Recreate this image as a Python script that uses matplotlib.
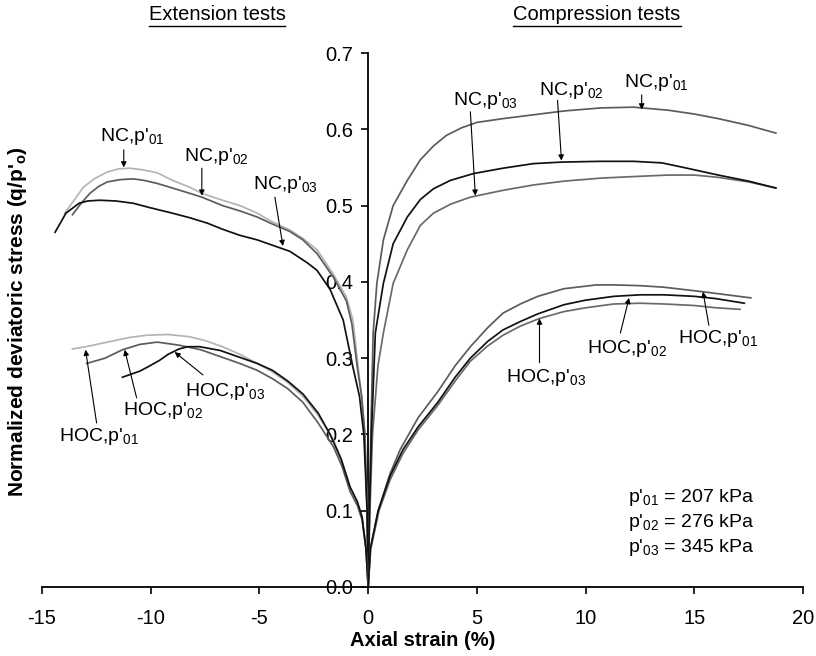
import matplotlib
matplotlib.use("Agg")
import matplotlib.pyplot as plt
from matplotlib.lines import Line2D

plt.rcParams['font.family'] = ['Liberation Sans', 'DejaVu Sans']
plt.rcParams['mathtext.fontset'] = 'custom'
plt.rcParams['mathtext.rm'] = 'Liberation Sans'
plt.rcParams['mathtext.it'] = 'Liberation Sans:italic'
plt.rcParams['mathtext.bf'] = 'Liberation Sans:bold'
plt.rcParams['axes.unicode_minus'] = False

# ---- extension tests (negative strain) ----
ext_nc01_x = [0, -0.05, -0.15, -0.3, -0.46, -0.7, -1.0, -1.6, -2.35, -3.0, -3.6, -4.5, -5.1, -5.9,
              -6.7, -7.65, -8.2, -9.0, -9.7, -10.4, -10.97, -11.5, -12.0, -12.6, -13.1, -13.5, -13.96]
ext_nc01_y = [0, 0.1, 0.2, 0.25, 0.288, 0.35, 0.38, 0.41, 0.442, 0.457, 0.468, 0.48, 0.49, 0.5,
              0.507, 0.516, 0.524, 0.533, 0.543, 0.547, 0.549, 0.548, 0.544, 0.535, 0.524, 0.508, 0.49]

ext_nc02_x = [0, -0.05, -0.15, -0.3, -0.5, -0.75, -1.0, -1.6, -2.35, -3.0, -3.6, -4.5, -5.1, -5.9,
              -6.7, -7.65, -8.2, -9.0, -9.7, -10.3, -10.8, -11.4, -12.0, -12.4, -12.8, -13.2, -13.6]
ext_nc02_y = [0, 0.1, 0.2, 0.25, 0.288, 0.345, 0.375, 0.406, 0.437, 0.455, 0.466, 0.477, 0.485, 0.493,
              0.5, 0.511, 0.516, 0.523, 0.529, 0.533, 0.535, 0.534, 0.531, 0.525, 0.516, 0.503, 0.488]

ext_nc03_x = [0, -0.05, -0.2, -0.4, -0.7, -1.15, -1.75, -2.35, -2.8, -3.6, -4.4, -5.1, -5.9, -6.7,
              -7.4, -8.2, -9.0, -10.0, -10.8, -11.6, -12.35, -12.9, -13.3, -13.9, -14.4]
ext_nc03_y = [0, 0.1, 0.2, 0.25, 0.288, 0.35, 0.39, 0.415, 0.425, 0.44, 0.448, 0.455, 0.461, 0.469,
              0.477, 0.484, 0.49, 0.497, 0.503, 0.506, 0.507, 0.506, 0.503, 0.49, 0.465]

ext_hoc01_x = [0, -0.1, -0.28, -0.5, -0.83, -1.2, -1.6, -2.3, -3.0, -3.7, -4.4, -5.1, -5.9, -6.7,
               -7.5, -8.2, -9.2, -10.2, -11.0, -12.0, -12.8, -13.6]
ext_hoc01_y = [0, 0.05, 0.09, 0.11, 0.13, 0.165, 0.193, 0.225, 0.25, 0.268, 0.282, 0.293, 0.305, 0.315,
               0.323, 0.328, 0.331, 0.330, 0.327, 0.321, 0.316, 0.312]

ext_hoc02_x = [0, -0.1, -0.28, -0.5, -0.83, -1.2, -1.6, -2.3, -3.0, -3.7, -4.4, -5.1, -5.9, -6.7,
               -7.7, -8.7, -9.7, -10.5, -11.3, -12.1, -12.95]
ext_hoc02_y = [0, 0.05, 0.088, 0.107, 0.125, 0.158, 0.184, 0.215, 0.242, 0.26, 0.273, 0.284, 0.293, 0.301,
               0.311, 0.317, 0.321, 0.318, 0.311, 0.30, 0.293]

ext_hoc03_x = [0, -0.1, -0.28, -0.5, -0.83, -1.25, -1.75, -2.3, -3.0, -3.7, -4.4, -5.1, -5.9, -6.8,
               -7.75, -8.3, -8.7, -9.2, -9.6, -10.1, -10.5, -11.3]
ext_hoc03_y = [0, 0.05, 0.092, 0.112, 0.131, 0.168, 0.2, 0.228, 0.253, 0.27, 0.284, 0.293, 0.301, 0.31,
               0.315, 0.315, 0.312, 0.305, 0.297, 0.289, 0.283, 0.275]

# ---- compression tests (positive strain) ----
comp_nc01_x = [0, 0.03, 0.06, 0.12, 0.23, 0.4, 0.7, 1.15, 1.8, 2.4, 3.0, 3.6, 4.3, 5.0, 6.2, 7.6,
               9.0, 10.7, 12.2, 13.8, 15.0, 16.1, 17.5, 18.75]
comp_nc01_y = [0, 0.05, 0.1, 0.2, 0.333, 0.398, 0.455, 0.5, 0.533, 0.56, 0.578, 0.592, 0.602, 0.609,
               0.614, 0.619, 0.624, 0.628, 0.629, 0.625, 0.62, 0.614, 0.605, 0.595]

comp_nc02_x = [0, 0.03, 0.06, 0.15, 0.33, 0.7, 1.15, 1.8, 2.4, 3.0, 3.78, 4.85, 6.2, 7.6, 8.9, 10.7,
               12.2, 13.5, 14.5, 15.3, 16.1, 17.5, 18.75]
comp_nc02_y = [0, 0.05, 0.1, 0.2, 0.333, 0.398, 0.45, 0.485, 0.508, 0.522, 0.533, 0.542, 0.549, 0.555,
               0.557, 0.558, 0.558, 0.556, 0.55, 0.545, 0.54, 0.532, 0.523]

comp_nc03_x = [0, 0.04, 0.08, 0.2, 0.45, 0.7, 1.15, 1.8, 2.4, 3.0, 3.8, 4.7, 6.2, 7.6, 9.0, 10.7,
               12.2, 13.8, 15.0, 16.1, 17.5, 18.75]
comp_nc03_y = [0, 0.05, 0.1, 0.2, 0.29, 0.333, 0.398, 0.442, 0.474, 0.49, 0.502, 0.511, 0.52, 0.527,
               0.532, 0.536, 0.538, 0.54, 0.54, 0.537, 0.531, 0.523]

comp_hoc01_x = [0, 0.1, 0.46, 1.0, 1.47, 2.3, 3.2, 4.0, 4.7, 5.5, 6.2, 7.0, 7.8, 9.0, 10.5, 11.3,
                12.5, 13.6, 14.5, 15.4, 16.5, 17.6]
comp_hoc01_y = [0, 0.05, 0.1, 0.148, 0.18, 0.222, 0.256, 0.29, 0.315, 0.34, 0.359, 0.371, 0.381, 0.391,
                0.396, 0.396, 0.395, 0.393, 0.39, 0.387, 0.383, 0.379]

comp_hoc02_x = [0, 0.1, 0.46, 1.0, 1.6, 2.3, 3.2, 4.0, 4.7, 5.5, 6.2, 7.0, 7.8, 9.0, 10.0, 11.3,
                12.5, 13.6, 15.0, 16.0, 17.3]
comp_hoc02_y = [0, 0.05, 0.1, 0.145, 0.18, 0.21, 0.242, 0.275, 0.3, 0.322, 0.337, 0.348, 0.358, 0.37,
                0.376, 0.381, 0.383, 0.383, 0.381, 0.378, 0.372]

comp_hoc03_x = [0, 0.12, 0.5, 1.0, 1.6, 2.3, 3.2, 4.0, 4.7, 5.5, 6.2, 7.0, 7.88, 9.0, 10.0, 11.3,
                12.5, 13.6, 15.0, 16.0, 17.1]
comp_hoc03_y = [0, 0.05, 0.1, 0.14, 0.175, 0.206, 0.238, 0.27, 0.296, 0.316, 0.33, 0.342, 0.352, 0.361,
                0.366, 0.371, 0.372, 0.371, 0.369, 0.366, 0.364]

# labels: (text, text pos, arrow start, arrow end)
sub = {'01': r"$_{01}$", '02': r"$_{02}$", '03': r"$_{03}$"}
annotations = [
    ("NC,p'" + sub['01'], (-10.83, 0.590), (-11.24, 0.573), (-11.24, 0.550)),
    ("NC,p'" + sub['02'], (-7.0, 0.564), (-7.65, 0.549), (-7.65, 0.513)),
    ("NC,p'" + sub['03'], (-3.82, 0.527), (-4.29, 0.511), (-3.92, 0.447)),
    ("HOC,p'" + sub['01'], (-12.4, 0.197), (-12.49, 0.215), (-13.0, 0.311)),
    ("HOC,p'" + sub['02'], (-9.45, 0.232), (-10.65, 0.248), (-11.2, 0.311)),
    ("HOC,p'" + sub['03'], (-6.59, 0.256), (-7.6, 0.278), (-8.9, 0.308)),
    ("NC,p'" + sub['03'], (5.39, 0.638), (4.7, 0.623), (4.93, 0.513)),
    ("NC,p'" + sub['02'], (9.35, 0.651), (8.71, 0.638), (8.89, 0.559)),
    ("NC,p'" + sub['01'], (13.27, 0.661), (12.58, 0.645), (12.58, 0.626)),
    ("HOC,p'" + sub['03'], (8.2, 0.275), (7.88, 0.294), (7.88, 0.352)),
    ("HOC,p'" + sub['02'], (11.89, 0.313), (11.6, 0.333), (12.0, 0.379)),
    ("HOC,p'" + sub['01'], (16.08, 0.326), (15.67, 0.343), (15.4, 0.387)),
]

pressures = ["p'" + sub['01'] + " = 207 kPa",
             "p'" + sub['02'] + " = 276 kPa",
             "p'" + sub['03'] + " = 345 kPa"]

LIGHT = '#b4b4b4'
DARK = '#5c5c5c'
MID = '#6a6a6a'
BLACK = '#111111'


def main():
    fig = plt.figure(figsize=(8.16, 6.56), dpi=100)
    ax = fig.add_axes([0.0515, 0.1052, 0.9326, 0.814])

    lw = 1.25
    # extension
    ax.plot(ext_nc01_x, ext_nc01_y, color=LIGHT, lw=lw)
    ax.plot(ext_nc02_x, ext_nc02_y, color=DARK, lw=lw)
    ax.plot(ext_nc03_x, ext_nc03_y, color=BLACK, lw=lw)
    ax.plot(ext_hoc01_x, ext_hoc01_y, color=LIGHT, lw=lw)
    ax.plot(ext_hoc02_x, ext_hoc02_y, color=DARK, lw=lw)
    ax.plot(ext_hoc03_x, ext_hoc03_y, color=BLACK, lw=lw)
    # compression
    ax.plot(comp_nc01_x, comp_nc01_y, color=DARK, lw=lw)
    ax.plot(comp_nc03_x, comp_nc03_y, color=MID, lw=lw)
    ax.plot(comp_nc02_x, comp_nc02_y, color=BLACK, lw=lw)
    ax.plot(comp_hoc01_x, comp_hoc01_y, color=DARK, lw=lw)
    ax.plot(comp_hoc03_x, comp_hoc03_y, color=MID, lw=lw)
    ax.plot(comp_hoc02_x, comp_hoc02_y, color=BLACK, lw=lw)

    ax.set_xlim(-15, 20)
    ax.set_ylim(0, 0.7)
    ax.spines['left'].set_position(('data', 0))
    ax.spines['bottom'].set_position(('data', 0))
    ax.spines['top'].set_visible(False)
    ax.spines['right'].set_visible(False)
    for s in ('left', 'bottom'):
        ax.spines[s].set_linewidth(1.3)
        ax.spines[s].set_zorder(1)

    ax.set_xticks(range(-15, 21, 5))
    ax.set_yticks([i / 10 for i in range(8)])
    ax.set_yticklabels([f"{i / 10:.1f}" for i in range(8)])
    ax.tick_params(direction='out', length=5, width=1.2, labelsize=14.5)
    ax.tick_params(axis='x', pad=11)
    ax.tick_params(axis='y', pad=6)

    for text, tpos, start, end in annotations:
        ax.text(tpos[0], tpos[1], text, fontsize=14, ha='center', va='center')
        ax.annotate('', xy=end, xytext=start,
                    arrowprops=dict(arrowstyle='-|>', lw=0.8, color='black',
                                    mutation_scale=8, shrinkA=0, shrinkB=0))

    for i, t in enumerate(pressures):
        ax.text(11.94, 0.117 - i * 0.0325, t, fontsize=14, ha='left', va='center')

    fig.text(0.022, 0.51, r"Normalized deviatoric stress (q/p'$_{\mathbf{o}}$)",
             rotation=90, fontsize=15, fontweight='bold', ha='center', va='center')
    fig.text(423 / 816, 1 - 641 / 656, "Axial strain (%)", fontsize=14.5,
             fontweight='bold', ha='center', va='center')

    # underlined section headers
    titles = [("Extension tests", 217 / 816), ("Compression tests", 597 / 816)]
    renderer = fig.canvas.get_renderer()
    for label, xf in titles:
        t = fig.text(xf, 1 - 15 / 656, label, fontsize=14.5, ha='center', va='center')
        bb = t.get_window_extent(renderer).transformed(fig.transFigure.inverted())
        yl = bb.y0 - 0.002
        fig.add_artist(Line2D([bb.x0, bb.x1], [yl, yl], color='black', lw=1.0,
                              transform=fig.transFigure))

    fig.savefig('out.png', dpi=100)


if __name__ == '__main__':
    main()
